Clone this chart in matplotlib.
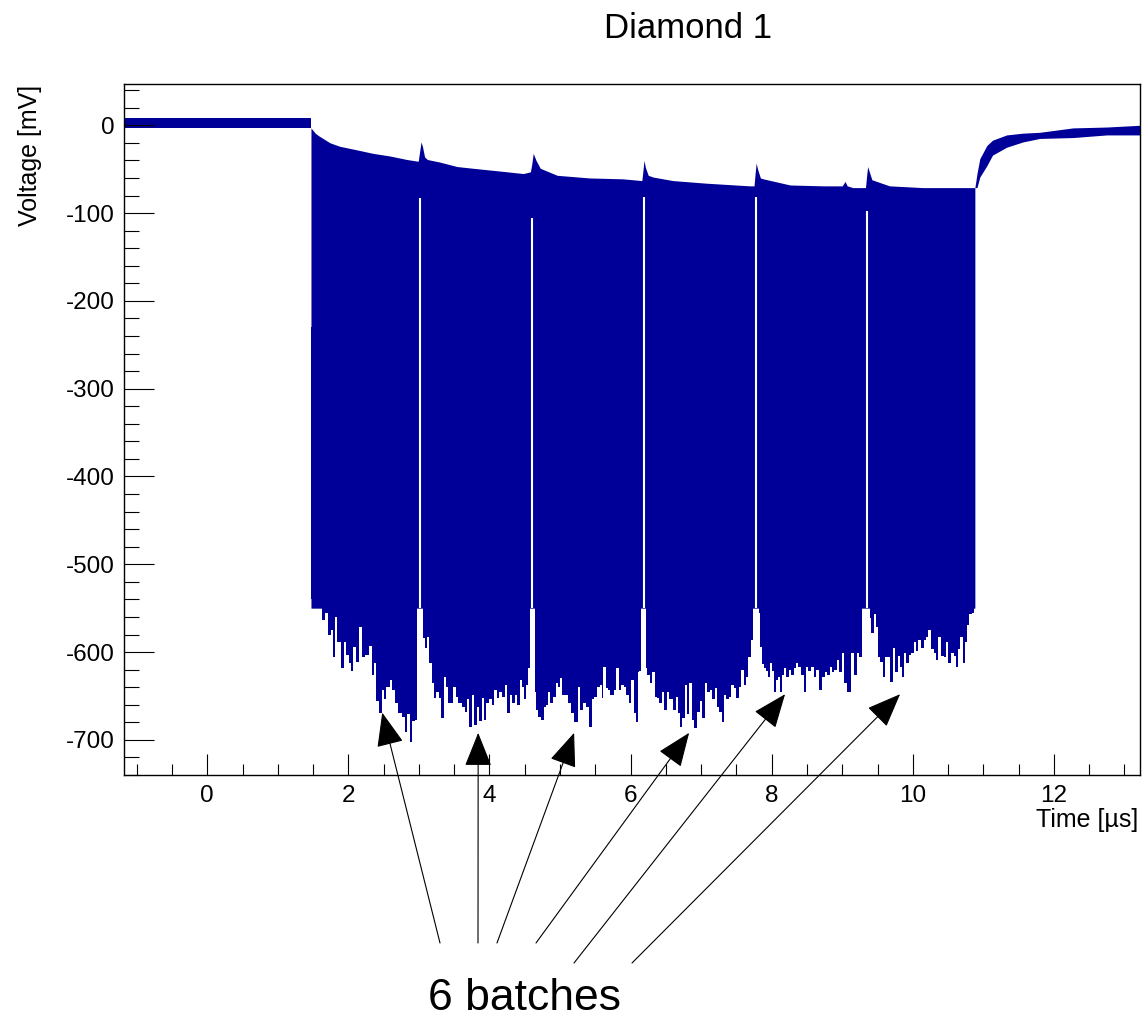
import numpy as np
import matplotlib
matplotlib.use("Agg")
import matplotlib.pyplot as plt
from matplotlib.ticker import MultipleLocator

plt.rcParams['font.family'] = ['Liberation Sans', 'DejaVu Sans']
plt.rcParams['axes.unicode_minus'] = False

# baseline before the bunch train (time in us, voltage in mV)
base_t = [-1.18, 1.47]
base_hi = [8, 8]
base_lo = [-3, -3]

# upper envelope of the bunch train
upper = [(1.47, -3), (1.50, -6), (1.53, -9), (1.58, -12), (1.64, -15), (1.74, -20),
         (1.88, -24), (2.12, -28), (2.35, -32), (2.59, -35), (2.83, -39), (2.99, -41),
         (3.01, -30), (3.03, -19), (3.05, -24), (3.08, -36), (3.12, -39), (3.30, -42),
         (3.54, -47), (3.77, -49), (4.01, -51), (4.25, -53), (4.48, -55), (4.58, -53),
         (4.60, -44), (4.62, -32), (4.66, -40), (4.72, -49), (4.96, -57), (5.42, -60),
         (5.89, -61), (6.16, -63), (6.175, -52), (6.19, -40), (6.21, -48), (6.25, -57),
         (6.32, -59), (6.60, -63), (7.08, -66), (7.69, -69), (7.75, -69), (7.765, -55),
         (7.78, -43), (7.80, -50), (7.84, -60), (7.88, -61), (8.26, -68), (8.73, -69),
         (9.00, -69), (9.04, -64), (9.07, -69), (9.15, -71), (9.33, -71), (9.345, -58),
         (9.36, -47), (9.38, -52), (9.42, -62), (9.49, -64), (9.67, -69), (10.14, -71),
         (10.88, -71)]

# lower envelope (bunch minima) of each batch
batch1 = [(1.47, -230), (1.49, -370), (1.52, -493), (1.56, -521), (1.59, -503), (1.62, -546),
          (1.64, -563), (1.70, -555), (1.73, -580), (1.77, -575), (1.80, -606), (1.83, -560),
          (1.86, -588), (1.93, -618), (1.96, -588), (1.98, -603), (2.03, -612), (2.05, -622),
          (2.08, -594), (2.13, -611), (2.17, -571), (2.21, -606), (2.27, -603), (2.31, -593),
          (2.35, -626), (2.37, -613), (2.41, -656), (2.45, -669), (2.49, -643), (2.52, -654),
          (2.56, -640), (2.61, -632), (2.64, -643), (2.69, -658), (2.73, -669), (2.78, -674),
          (2.82, -691), (2.85, -671), (2.89, -702), (2.92, -679), (2.96, -677), (2.975, -677)]
batch2 = [(3.06, -584), (3.10, -595), (3.13, -583), (3.16, -612), (3.20, -635), (3.23, -652),
          (3.26, -646), (3.30, -652), (3.34, -675), (3.36, -628), (3.40, -640), (3.43, -658),
          (3.47, -658), (3.50, -640), (3.54, -651), (3.58, -658), (3.63, -663), (3.67, -668),
          (3.70, -654), (3.73, -685), (3.77, -649), (3.80, -683), (3.84, -663), (3.87, -679),
          (3.91, -652), (3.94, -677), (3.97, -658), (4.01, -654), (4.05, -660), (4.09, -643),
          (4.12, -652), (4.16, -646), (4.19, -651), (4.24, -637), (4.26, -669), (4.31, -649),
          (4.33, -658), (4.38, -649), (4.41, -660), (4.45, -632), (4.48, -640), (4.50, -654),
          (4.53, -637), (4.56, -618), (4.575, -618)]
batch3 = [(4.65, -645), (4.67, -666), (4.70, -674), (4.75, -677), (4.79, -663), (4.82, -660),
          (4.84, -646), (4.89, -658), (4.92, -651), (4.96, -635), (4.99, -640), (5.01, -629),
          (5.04, -649), (5.10, -649), (5.14, -658), (5.18, -669), (5.23, -680), (5.27, -640),
          (5.31, -666), (5.35, -658), (5.38, -663), (5.43, -685), (5.47, -654), (5.50, -651),
          (5.54, -640), (5.58, -637), (5.61, -652), (5.62, -617), (5.67, -641), (5.69, -643),
          (5.74, -649), (5.78, -643), (5.82, -618), (5.85, -643), (5.89, -637), (5.92, -640),
          (5.96, -649), (5.99, -658), (6.03, -632), (6.06, -669), (6.09, -680), (6.11, -623),
          (6.13, -622), (6.15, -622)]
batch4 = [(6.22, -618), (6.25, -626), (6.29, -635), (6.32, -623), (6.36, -651), (6.39, -652),
          (6.43, -658), (6.46, -645), (6.50, -666), (6.53, -646), (6.57, -654), (6.62, -666),
          (6.66, -651), (6.69, -669), (6.71, -685), (6.74, -675), (6.79, -637), (6.81, -671),
          (6.86, -635), (6.88, -677), (6.93, -686), (6.96, -668), (7.00, -656), (7.03, -675),
          (7.07, -635), (7.10, -645), (7.14, -643), (7.17, -654), (7.22, -641), (7.24, -663),
          (7.27, -668), (7.31, -680), (7.34, -649), (7.37, -654), (7.41, -651), (7.45, -637),
          (7.48, -641), (7.51, -652), (7.55, -640), (7.59, -620), (7.62, -637), (7.65, -628),
          (7.69, -606), (7.72, -586), (7.73, -586)]
batch5 = [(7.82, -555), (7.85, -594), (7.88, -614), (7.90, -618), (7.93, -622), (7.96, -628),
          (8.00, -612), (8.02, -622), (8.05, -645), (8.07, -632), (8.10, -628), (8.14, -645),
          (8.16, -626), (8.19, -618), (8.22, -628), (8.26, -620), (8.30, -626), (8.33, -618),
          (8.36, -612), (8.40, -617), (8.44, -626), (8.47, -645), (8.50, -617), (8.54, -622),
          (8.58, -617), (8.61, -628), (8.65, -620), (8.70, -643), (8.73, -628), (8.77, -623),
          (8.80, -626), (8.84, -617), (8.87, -623), (8.91, -620), (8.94, -609), (8.98, -623),
          (9.01, -601), (9.05, -635), (9.08, -645), (9.11, -646), (9.15, -601), (9.19, -626),
          (9.22, -601), (9.26, -606), (9.28, -606)]
batch6 = [(9.39, -561), (9.43, -578), (9.46, -557), (9.49, -571), (9.52, -606), (9.56, -611),
          (9.59, -628), (9.63, -606), (9.66, -606), (9.70, -634), (9.73, -595), (9.77, -623),
          (9.80, -604), (9.84, -617), (9.86, -628), (9.89, -601), (9.92, -612), (9.96, -603),
          (10.00, -601), (10.03, -588), (10.06, -599), (10.10, -586), (10.14, -595), (10.17, -586),
          (10.20, -583), (10.24, -575), (10.28, -597), (10.31, -601), (10.34, -609), (10.38, -583),
          (10.43, -604), (10.45, -606), (10.48, -589), (10.52, -612), (10.57, -601), (10.60, -604),
          (10.62, -617), (10.65, -597), (10.69, -583), (10.72, -612), (10.77, -589), (10.78, -569),
          (10.82, -557), (10.85, -555), (10.87, -555)]
batches = [batch1, batch2, batch3, batch4, batch5, batch6]

# gaps between batches: time and voltage where the gap starts
gap_t = [3.02, 4.60, 6.19, 7.78, 9.35]
gap_top = [-83, -106, -82, -82, -98]

# recovery after the train
tail_t = [10.88, 10.91, 10.95, 11.05, 11.13, 11.33, 11.56, 11.80, 12.27, 12.75, 13.22]
tail_hi = [-71, -55, -38, -23, -17, -11, -9, -8, -3, -2, 0]
tail_lo = [-71, -71, -59, -46, -34, -25, -19, -15, -14, -11, -11]

# arrow tips (data) for the "6 batches" annotation
arrow_t = [2.48, 3.84, 5.20, 6.83, 8.19, 9.82]
arrow_v = [-669, -692, -692, -692, -648, -648]

blue = '#000099'

fig = plt.figure(figsize=(11.45, 10.22), dpi=100)
ax = fig.add_axes([0.1083, 0.2417, 0.8873, 0.6761])

ax.fill_between(base_t, base_lo, base_hi, color=blue, lw=0)
up = np.array(upper)
ax.fill_between(up[:, 0], up[:, 1], -550, color=blue, lw=0)
for b in batches:
    b = np.array(b)
    ax.fill_between(b[:, 0], b[:, 1], -540, step='mid', color=blue, lw=0)
ax.fill_between(tail_t, tail_lo, tail_hi, color=blue, lw=0)
ax.vlines(gap_t, -550, gap_top, color='white', lw=1.5, zorder=3)

ax.set_xlim(-1.18, 13.22)
ax.set_ylim(-740, 47)
ax.xaxis.set_major_locator(MultipleLocator(2))
ax.xaxis.set_minor_locator(MultipleLocator(0.5))
ax.yaxis.set_major_locator(MultipleLocator(100))
ax.yaxis.set_minor_locator(MultipleLocator(20))
ax.tick_params(which='both', direction='in', top=False, right=False, width=0.8)
ax.tick_params(axis='y', which='major', length=21.6, labelsize=17.5, pad=7)
ax.tick_params(axis='y', which='minor', length=10.8)
ax.tick_params(axis='x', which='major', length=15.1, labelsize=17.5, pad=7)
ax.tick_params(axis='x', which='minor', length=7.6)
for s in ax.spines.values():
    s.set_linewidth(1.0)

fig.text(688 / 1145, 1 - 28 / 1022, 'Diamond 1', fontsize=25, ha='center', va='center')
fig.text(30 / 1145, 1 - 85 / 1022, 'Voltage [mV]', fontsize=18, rotation=90,
         ha='center', va='top')
fig.text(1138 / 1145, 1 - 820 / 1022, 'Time [µs]', fontsize=18, ha='right', va='center')
fig.text(525 / 1145, 0.012, '6 batches', fontsize=32, ha='center', va='baseline')

# arrow tails in figure pixels
tails = [(440, 79), (478, 79), (497, 79), (536, 79), (574, 59), (632, 59)]
for t, v, tail in zip(arrow_t, arrow_v, tails):
    ax.annotate('', xy=(t, v), xycoords='data', xytext=tail, textcoords='figure pixels',
                annotation_clip=False,
                arrowprops=dict(arrowstyle='-|>,head_length=0.6,head_width=0.24',
                                mutation_scale=36, lw=0.8, color='black',
                                shrinkA=0, shrinkB=0))

fig.savefig('out.png', dpi=100)
